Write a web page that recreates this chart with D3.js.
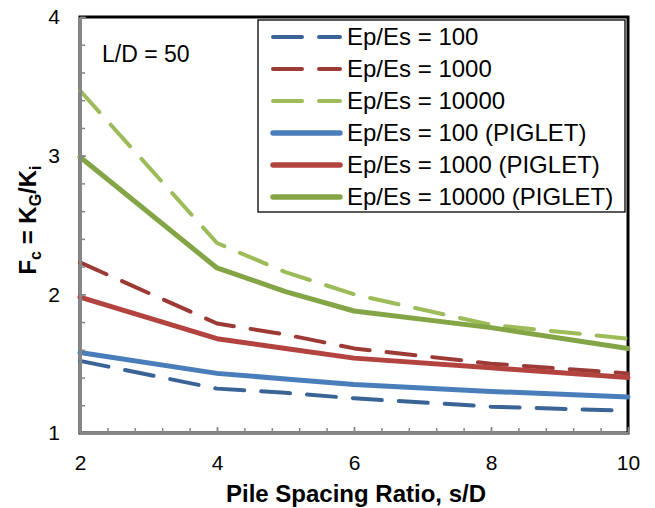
<!DOCTYPE html>
<html>
<head>
<meta charset="utf-8">
<script src="https://d3js.org/d3.v7.min.js"></script>
<style>
  body { margin: 0; background: #fff; }
  text { font-family: "Liberation Sans", Arial, sans-serif; fill: #000; }
</style>
</head>
<body>
<svg width="655" height="508"></svg>
<script>
// values
const spacing = [2, 4, 5, 6, 8, 10];
const ep100 = [1.52, 1.32, 1.29, 1.25, 1.19, 1.16];
const ep1000 = [2.23, 1.79, 1.71, 1.61, 1.50, 1.43];
const ep10000 = [3.47, 2.37, 2.16, 2.00, 1.78, 1.68];
const ep100P = [1.58, 1.43, 1.39, 1.35, 1.30, 1.26];
const ep1000P = [1.98, 1.68, 1.61, 1.54, 1.47, 1.40];
const ep10000P = [2.99, 2.19, 2.02, 1.88, 1.76, 1.61];
const seriesNames = ["Ep/Es = 100", "Ep/Es = 1000", "Ep/Es = 10000",
  "Ep/Es = 100 (PIGLET)", "Ep/Es = 1000 (PIGLET)", "Ep/Es = 10000 (PIGLET)"];
const xTicks = [2, 4, 6, 8, 10];
const yTicks = [1, 2, 3, 4];

const series = [
  { name: seriesNames[0], values: ep100, color: "#3a6496", dashed: true },
  { name: seriesNames[1], values: ep1000, color: "#9c3a36", dashed: true },
  { name: seriesNames[2], values: ep10000, color: "#9dbb58", dashed: true },
  { name: seriesNames[3], values: ep100P, color: "#4a7ebb", dashed: false },
  { name: seriesNames[4], values: ep1000P, color: "#b3433f", dashed: false },
  { name: seriesNames[5], values: ep10000P, color: "#83a546", dashed: false }
];

const pL = 80, pR = 628, pT = 17, pB = 433;

const svg = d3.select("svg");
const x = d3.scaleLinear().domain([2, 10]).range([pL, pR]);
const y = d3.scaleLinear().domain([1, 4]).range([pB, pT]);

// plot frame (black on top/right)
svg.append("rect")
  .attr("x", pL).attr("y", pT)
  .attr("width", pR - pL).attr("height", pB - pT)
  .attr("fill", "none").attr("stroke", "#000").attr("stroke-width", 3);

// lines
const line = d3.line().x((d, i) => x(spacing[i])).y(d => y(d));
series.forEach(s => {
  svg.append("path")
    .attr("d", line(s.values))
    .attr("fill", "none")
    .attr("stroke", s.color)
    .attr("stroke-width", s.dashed ? 4 : 5)
    .attr("stroke-linecap", "round")
    .attr("stroke-linejoin", "round")
    .attr("stroke-dasharray", s.dashed ? "29,17" : null);
});

// axes, ticks inward
const gray = "#868686";
function styleAxis(g) {
  g.select(".domain").attr("stroke", gray).attr("stroke-width", 3);
  g.selectAll(".tick line").attr("stroke", gray).attr("stroke-width", 1.5);
  g.selectAll("text").attr("font-size", 21).attr("fill", "#000")
    .style("font-family", '"Liberation Sans", Arial, sans-serif');
}

svg.append("g").attr("transform", `translate(0,${pB})`)
  .call(d3.axisBottom(x).tickValues(d3.range(2, 10.01, 0.4)).tickSize(-5).tickFormat("").tickSizeOuter(0))
  .call(styleAxis);
svg.append("g").attr("transform", `translate(${pL},0)`)
  .call(d3.axisLeft(y).tickValues(d3.range(1, 4.01, 0.2)).tickSize(-5).tickFormat("").tickSizeOuter(0))
  .call(styleAxis);

svg.append("g").attr("transform", `translate(0,${pB})`)
  .call(d3.axisBottom(x).tickValues(xTicks).tickFormat(d3.format("d"))
    .tickSize(-6).tickPadding(22).tickSizeOuter(0))
  .call(styleAxis);
svg.append("g").attr("transform", `translate(${pL},0)`)
  .call(d3.axisLeft(y).tickValues(yTicks).tickFormat(d3.format("d"))
    .tickSize(-6).tickPadding(20).tickSizeOuter(0))
  .call(styleAxis);

// axis titles
svg.append("text")
  .attr("x", (pL + pR) / 2 + 2).attr("y", 502)
  .attr("text-anchor", "middle").attr("font-size", 24).attr("font-weight", "bold")
  .text("Pile Spacing Ratio, s/D");

const yt = svg.append("text")
  .attr("transform", `translate(36,${(pT + pB) / 2 - 5}) rotate(-90)`)
  .attr("text-anchor", "middle").attr("font-size", 24).attr("font-weight", "bold");
yt.append("tspan").text("F");
yt.append("tspan").attr("font-size", 16).attr("dy", 5).text("c");
yt.append("tspan").attr("dy", -5).text(" = K");
yt.append("tspan").attr("font-size", 16).attr("dy", 5).text("G");
yt.append("tspan").attr("dy", -5).text("/K");
yt.append("tspan").attr("font-size", 16).attr("dy", 5).text("i");

// annotation
svg.append("text")
  .attr("x", 102).attr("y", 62)
  .attr("font-size", 23).text("L/D = 50");

// legend
const lg = svg.append("g");
lg.append("rect")
  .attr("x", 258).attr("y", 20).attr("width", 367).attr("height", 192)
  .attr("fill", "#fff").attr("stroke", "#000").attr("stroke-width", 1.3);
series.forEach((s, i) => {
  const cy = 37 + i * 32;
  lg.append("line")
    .attr("x1", 273).attr("x2", 340).attr("y1", cy).attr("y2", cy)
    .attr("stroke", s.color)
    .attr("stroke-width", s.dashed ? 4 : 5.5)
    .attr("stroke-linecap", "round")
    .attr("stroke-dasharray", s.dashed ? "29,17" : null);
  lg.append("text")
    .attr("x", 347).attr("y", cy + 8)
    .attr("font-size", 24).text(s.name);
});
</script>
</body>
</html>
